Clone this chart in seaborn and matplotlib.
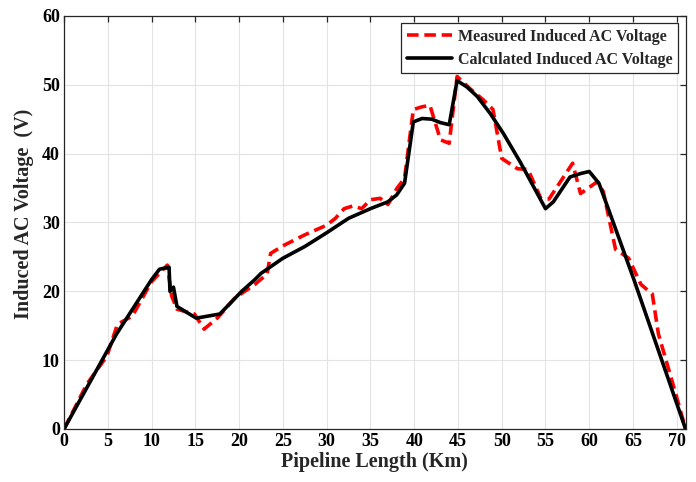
import matplotlib
matplotlib.use("Agg")
import matplotlib.pyplot as plt
import seaborn as sns
import pandas as pd

# Measured induced AC voltage
meas_x = [0, 2.6, 4.9, 6.1, 7.8, 10.0, 11.8, 12.3, 12.9, 14.9, 16.0, 17.5, 19.5, 21.8,
          23.2, 23.6, 25.0, 27.5, 30.0, 31.0, 32.0, 33.0, 34.0, 35.0, 36.1, 37.0, 38.0,
          38.9, 39.9, 40.9, 41.8, 43.0, 44.0, 44.9, 46.4, 47.9, 49.0, 50.0, 51.8, 53.0,
          54.5, 55.4, 58.1, 59.0, 60.9, 61.6, 63.0, 64.5, 65.9, 67.2, 67.9, 69.7, 71.0]
meas_y = [0, 6.5, 10.6, 15.2, 16.4, 21.4, 23.8, 19.3, 17.4, 16.7, 14.5, 16.1, 19.0, 21.0,
          22.5, 25.5, 26.6, 28.2, 29.6, 30.6, 32.0, 32.4, 32.0, 33.3, 33.5, 32.6, 34.9,
          36.4, 46.4, 46.8, 47.0, 42.0, 41.5, 51.2, 49.4, 47.8, 46.4, 39.3, 37.8, 37.7,
          33.4, 33.4, 38.6, 34.2, 35.9, 34.5, 26.1, 24.8, 21.0, 19.6, 13.8, 5.9, 0]

# Calculated induced AC voltage
calc_x = [0, 6.0, 10.0, 10.9, 12.0, 12.1, 12.5, 12.9, 15.1, 17.8, 20.3, 21.8, 22.5,
          25.0, 27.5, 30.0, 32.5, 35.0, 37.0, 38.0, 38.9, 39.9, 40.9, 42.0, 43.0, 44.0,
          44.9, 46.0, 47.2, 48.7, 50.2, 52.1, 55.0, 55.9, 57.8, 59.0, 60.0, 61.1, 62.2,
          65.1, 71.0]
calc_y = [0, 13.8, 21.7, 23.2, 23.5, 20.0, 20.6, 17.8, 16.1, 16.7, 20.0, 21.7, 22.6,
          24.8, 26.5, 28.5, 30.6, 32.0, 33.0, 34.0, 35.7, 44.6, 45.1, 45.0, 44.5, 44.2,
          50.6, 49.7, 48.3, 45.8, 42.9, 38.8, 32.0, 33.0, 36.6, 37.1, 37.4, 35.7, 31.9,
          21.7, 0]

labels = ["Measured Induced AC Voltage", "Calculated Induced AC Voltage"]

sns.set_style("white")
plt.rcParams['font.family'] = ['Liberation Serif', 'DejaVu Serif']
plt.rcParams['font.weight'] = 'bold'

fig = plt.figure(figsize=(6.96, 4.82), dpi=100)
ax = fig.add_axes([0.092, 0.110, 0.893, 0.857])

df_m = pd.DataFrame({"x": meas_x, "y": meas_y})
df_c = pd.DataFrame({"x": calc_x, "y": calc_y})

sns.lineplot(data=df_m, x="x", y="y", sort=False, ax=ax, color="#ff0000",
             linewidth=2.6, label=labels[0], estimator=None)
ax.lines[-1].set_dashes((3.2, 1.6))
sns.lineplot(data=df_c, x="x", y="y", sort=False, ax=ax, color="black",
             linewidth=2.6, label=labels[1], estimator=None)

ax.set_xlim(0, 71)
ax.set_ylim(0, 60)
ax.set_xticks(range(0, 71, 5))
ax.set_yticks(range(0, 61, 10))
ax.grid(True, color="#e3e3e3", linewidth=0.8)
ax.set_axisbelow(True)
for s in ax.spines.values():
    s.set_visible(True)
    s.set_color("#262626")
    s.set_linewidth(0.9)
ax.tick_params(direction="in", length=4, width=0.9, top=True, right=True,
               labelsize=13, colors="#262626", labelcolor="black", pad=3)
for lab in ax.get_xticklabels() + ax.get_yticklabels():
    lab.set_fontweight("bold")

ax.set_xlabel("Pipeline Length (Km)", fontsize=14.5, fontweight="bold", labelpad=1)
ax.set_ylabel("Induced AC Voltage  (V)", fontsize=14.5, fontweight="bold")
ax.yaxis.set_label_coords(-0.048, 0.52)

leg = ax.legend(loc="upper right", fontsize=11.5, frameon=True, fancybox=False,
                edgecolor="#262626", framealpha=1, handlelength=2.8,
                borderaxespad=0.45, borderpad=0.35, labelspacing=0.45, handletextpad=0.4)
leg.get_frame().set_linewidth(0.9)
for t in leg.get_texts():
    t.set_fontweight("bold")

fig.savefig("out.png", dpi=100)
